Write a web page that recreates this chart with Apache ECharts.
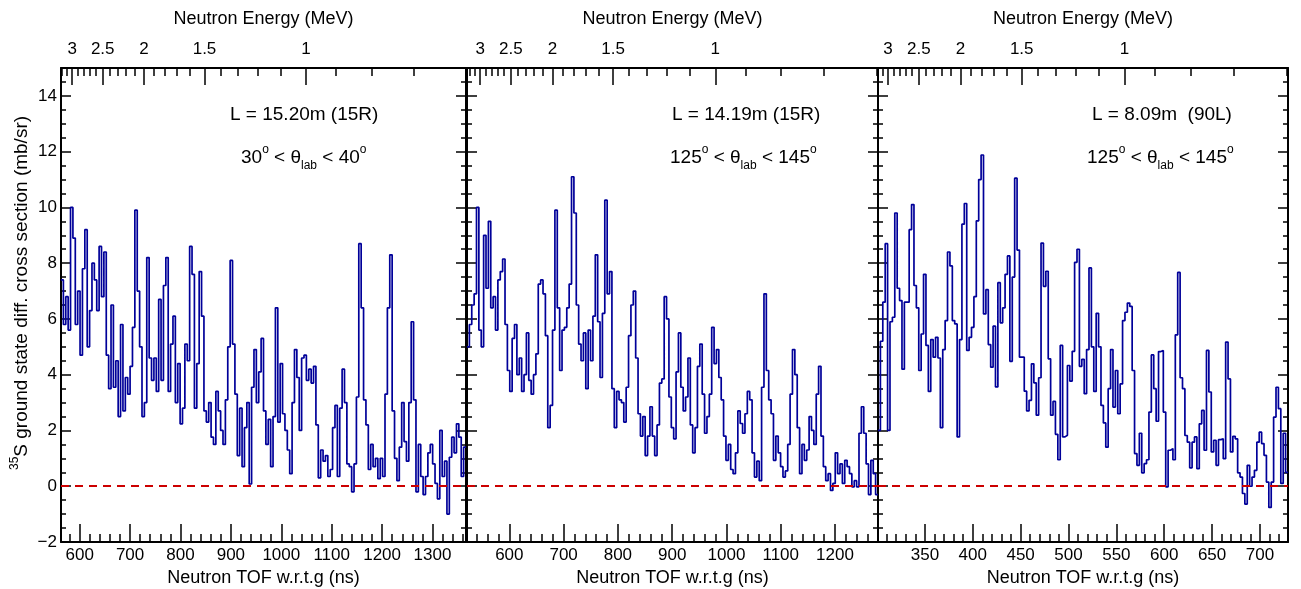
<!DOCTYPE html>
<html><head><meta charset="utf-8">
<script src="https://cdn.jsdelivr.net/npm/echarts@6/dist/echarts.min.js"></script>
<style>html,body{margin:0;padding:0;background:#fff}#c{width:1301px;height:589px}</style>
</head><body><div id="c"></div>
<script>
// ---------------- data ----------------
const flightPaths = [15.20, 14.19, 8.09];          // m
const panelLabels = ['L = 15.20m (15R)', 'L = 14.19m (15R)', 'L = 8.09m  (90L)'];
const angleLow = [30, 125, 125];
const angleHigh = [40, 145, 145];
const tofMin = [563, 522, 301];
const tofMax = [1366.4, 1279.2, 729.3];
const tofMajorTicks = [
  [600, 700, 800, 900, 1000, 1100, 1200, 1300],
  [600, 700, 800, 900, 1000, 1100, 1200],
  [350, 400, 450, 500, 550, 600, 650, 700]
];
const tofMinorStep = [20, 20, 10];
const energyLabels = [3, 2.5, 2, 1.5, 1];
const energyMinor = [3.2, 3.1, 2.9, 2.8, 2.7, 2.6, 2.4, 2.3, 2.2, 2.1, 1.9, 1.8, 1.7, 1.6, 1.4, 1.3, 1.2, 1.1, 0.9, 0.8, 0.7, 0.6];
const yMajorTicks = [-2, 0, 2, 4, 6, 8, 10, 12, 14];

// bin contents (mb/sr), equal-width TOF bins spanning each panel's axis range
const p1Values = [
7.4, 5.8, 6.8, 5.6, 10.0, 8.9, 5.8, 7.0,
4.7, 7.8, 9.2, 5.0, 6.3, 8.0, 7.4,
6.3, 8.6, 6.8, 8.4, 4.7, 3.5, 6.5,
3.55, 4.5, 2.5, 5.8, 2.7, 3.9, 3.3,
4.3, 5.7, 9.9, 7.0, 5.0, 2.5, 3.0,
8.2, 4.6, 3.8, 4.6, 3.4, 6.7, 3.8,
7.2, 8.2, 3.4, 5.1, 6.1, 3.0, 4.4,
2.24, 2.8, 5.1, 4.5, 8.6, 7.6, 2.8,
4.4, 7.7, 6.1, 2.7, 2.3, 3.0, 1.76,
1.5, 3.4, 2.7, 2.0, 1.5, 3.1, 5.0,
8.1, 5.1, 3.3, 1.1, 2.8, 0.7, 2.1,
3.0, 0.08, 3.55, 4.9, 3.0, 4.1, 5.3,
2.7, 1.5, 2.4, 0.7, 2.5, 6.4, 2.3,
4.4, 2.6, 2.0, 1.3, 0.45, 3.0, 4.9,
3.9, 2.0, 4.6, 4.7, 3.8, 4.2, 3.7,
4.3, 2.2, 0.3, 1.3, 0.9, 1.1, 0.35,
0.6, 2.1, 2.9, 0.35, 2.8, 4.2, 3.0,
0.8, 0.7, -0.2, 0.8, 3.2, 8.7, 6.4,
3.1, 2.2, 0.6, 1.5, 0.7, 1.0, 0.27,
1.0, 0.35, 3.3, 6.4, 8.3, 2.7, 1.0,
0.2, 1.4, 3.0, 1.6, 0.9, 3.0, 5.9,
3.1, -0.2, 1.5, 0.35, -0.3, 0.35, 1.2,
1.5, 0.8, 0.1, -0.45, 2.0, 0.35, 0.9,
-1.0, 1.04, 1.76, 1.2, 2.24, 1.76, 0.35,
1.4
];

const p2Values = [
5.0, 5.8, 6.5, 6.9, 10.0, 5.6, 5.0,
9.0, 7.1, 9.5, 6.4, 6.8, 5.6, 7.4,
7.7, 8.15, 5.8, 4.15, 3.4, 5.3, 5.8,
4.0, 4.6, 3.4, 4.0, 5.5, 3.8, 3.3,
4.0, 4.75, 7.25, 7.4, 6.9, 5.4, 2.1,
2.9, 5.6, 9.9, 6.4, 4.15, 5.6, 5.7,
6.4, 7.25, 11.1, 9.8, 6.5, 5.1, 4.5,
5.5, 3.5, 5.6, 4.5, 6.1, 8.3, 5.9,
3.9, 6.2, 10.26, 6.9, 7.7, 3.5, 2.1,
3.4, 3.1, 3.0, 2.3, 3.55, 5.4, 6.5,
7.0, 4.6, 2.6, 1.8, 2.5, 1.1, 1.8,
2.85, 1.8, 1.1, 2.2, 3.7, 3.85, 6.8,
6.0, 3.2, 2.1, 1.7, 4.1, 5.5, 3.55,
2.7, 3.2, 4.6, 2.2, 1.2, 2.1, 4.3,
5.1, 3.3, 1.9, 2.5, 3.3, 5.7, 4.4,
4.9, 3.9, 3.1, 1.8, 0.93, 1.5, 0.6,
0.45, 1.2, 2.7, 2.25, 1.9, 2.6, 3.4,
3.1, 1.2, 0.33, 0.9, 0.2, 3.55, 6.9,
4.15, 3.1, 2.6, 0.93, 1.8, 1.2, 0.7,
0.33, 0.55, 1.5, 3.3, 4.9, 4.0, 2.1,
0.45, 1.5, 0.93, 1.3, 2.5, 2.0, 1.5,
3.3, 4.3, 1.8, 0.7, 0.2, 0.45, -0.15,
0.1, 1.2, 0.45, 0.8, 0.1, 0.93, 0.7,
0.45, -0.02, 0.2, -0.02, 1.9, 2.85, 1.9,
0.8, -0.3, 0.93, 0.45, -0.3
];

const p3Values = [
2.0, 5.2, 6.6, 8.7, 2.0, 5.9, 6.06, 9.8, 7.1, 6.66,
4.2, 6.6, 6.6, 9.2, 10.1, 7.2, 6.4, 4.15, 5.46, 7.6,
5.05, 3.4, 5.26, 4.63, 5.34, 4.6, 2.1, 4.9, 5.94, 8.4,
7.9, 5.94, 5.82, 1.77, 5.26, 9.4, 10.14, 4.87, 5.34, 5.7,
6.8, 9.52, 11.0, 11.88, 6.18, 7.05, 5.08, 4.27, 5.74, 3.56,
7.3, 5.86, 6.4, 7.6, 8.26, 4.48, 7.5, 11.05, 8.47, 4.63,
4.63, 3.41, 2.7, 3.08, 4.39, 3.71, 2.55, 3.89, 8.72, 7.17,
7.71, 4.57, 2.55, 3.04, 1.86, 0.95, 5.05, 1.77, 1.83, 4.33,
3.77, 4.84, 8.03, 8.5, 4.3, 4.55, 3.32, 4.9, 7.83, 5.0,
3.4, 6.2, 5.0, 2.9, 2.27, 1.4, 3.5, 4.9, 2.84, 4.15,
2.6, 3.67, 5.94, 6.24, 6.57, 6.45, 4.15, 1.17, 0.75, 1.9,
0.48, 0.81, 0.95, 2.66, 4.71, 3.5, 2.33, 4.83, 4.87, 2.66,
-0.02, 1.29, 1.35, 0.95, 5.43, 7.67, 3.89, 3.5, 1.82, 1.58,
0.66, 1.58, 1.77, 0.63, 2.24, 2.72, 1.29, 4.87, 3.38, 1.23,
1.65, 0.75, 1.67, 1.7, 0.99, 5.17, 3.85, 1.23, 1.79, 1.7,
0.48, 0.33, -0.26, -0.64, 0.75, 0.0, 0.33, 0.57, 1.58, 1.94,
1.53, 1.11, 0.15, -0.76, 0.15, 2.48, 3.55, 2.78, 0.1, 1.9,
0.5
];
const panelValues = [p1Values, p2Values, p3Values];

// ---------------- helpers ----------------
const FONT = '"Liberation Sans", Arial, Helvetica, sans-serif';
const BLACK = '#000';
function tofFromEnergy(E, L) {
  const mn = 939.565, c = 0.299792458;
  const g = 1 + E / mn;
  const beta = Math.sqrt(1 - 1 / (g * g));
  return L / (beta * c) - L / c;
}
function minorTicks(min, max, step, majors) {
  const out = [];
  for (let k = Math.ceil(min / step - 1e-9); k * step < max - 1e-6; k++) {
    const v = Math.round(k * step * 1000) / 1000;
    if (v <= min + 1e-6) continue;
    if (!majors.some(m => Math.abs(m - v) < 1e-6)) out.push(v);
  }
  return out;
}
function histPoints(values, start, end) {
  const w = (end - start) / values.length;
  const pts = values.map((v, i) => [start + i * w, v]);
  pts.push([end, values[values.length - 1]]);
  return pts;
}
const plainNumber = v => (v < 0 ? '\u2212' + String(Math.abs(v)) : String(v));

const gridBoxes = [
  {left: 61, top: 68, width: 405, height: 474},
  {left: 467, top: 68, width: 411, height: 474},
  {left: 878, top: 68, width: 410, height: 474}
];

const grids = [], xAxes = [], yAxes = [], series = [];
const tickLine = {color: BLACK, width: 1.5};
const frameLine = {show: true, onZero: false, lineStyle: {color: BLACK, width: 2}};
const noLine = {show: false, onZero: false};
const yMinorTicks = minorTicks(-2, 15, 0.5, yMajorTicks);

for (let g = 0; g < 3; g++) {
  grids.push(Object.assign({show: false, outerBoundsMode: 'none', containLabel: false}, gridBoxes[g]));
  const L = flightPaths[g];
  const min = tofMin[g], max = tofMax[g];
  const maj = tofMajorTicks[g];
  const mnr = minorTicks(min, max, tofMinorStep[g], maj);
  const eMaj = energyLabels.map(E => tofFromEnergy(E, L));
  const eMin = energyMinor.map(E => tofFromEnergy(E, L)).filter(t => t > min && t < max);
  const base = {type: 'value', gridIndex: g, min: min, max: max, splitLine: {show: false}, silent: true};
  xAxes.push(Object.assign({}, base, {
    position: 'bottom', axisLine: frameLine,
    axisTick: {show: true, inside: true, length: 18, customValues: maj, lineStyle: tickLine},
    axisLabel: {show: true, customValues: maj, color: BLACK, fontSize: 17, fontFamily: FONT, margin: 5, formatter: plainNumber},
    name: 'Neutron TOF w.r.t.g (ns)', nameLocation: 'middle', nameGap: 22,
    nameTextStyle: {color: BLACK, fontSize: 18, fontFamily: FONT}
  }));
  xAxes.push(Object.assign({}, base, {
    position: 'bottom', axisLine: noLine,
    axisTick: {show: true, inside: true, length: 8, customValues: mnr, lineStyle: tickLine},
    axisLabel: {show: false}
  }));
  xAxes.push(Object.assign({}, base, {
    position: 'top', axisLine: frameLine,
    axisTick: {show: true, inside: true, length: 17, customValues: eMaj, lineStyle: tickLine},
    axisLabel: {show: true, customValues: eMaj, color: BLACK, fontSize: 17, fontFamily: FONT, margin: 10,
      formatter: function (val) {
        const i = eMaj.findIndex(t => Math.abs(t - val) < 1e-6);
        return i >= 0 ? String(energyLabels[i]) : '';
      }},
    name: 'Neutron Energy (MeV)', nameLocation: 'middle', nameGap: 40,
    nameTextStyle: {color: BLACK, fontSize: 18, fontFamily: FONT}
  }));
  xAxes.push(Object.assign({}, base, {
    position: 'top', axisLine: noLine,
    axisTick: {show: true, inside: true, length: 8, customValues: eMin, lineStyle: tickLine},
    axisLabel: {show: false}
  }));

  const ybase = {type: 'value', gridIndex: g, min: -2, max: 15, splitLine: {show: false}, silent: true};
  yAxes.push(Object.assign({}, ybase, {
    position: 'left', axisLine: frameLine,
    axisTick: {show: true, inside: true, length: 10, customValues: yMajorTicks, lineStyle: tickLine},
    axisLabel: {show: g === 0, customValues: yMajorTicks, color: BLACK, fontSize: 17, fontFamily: FONT, margin: 4,
      formatter: plainNumber}
  }));
  yAxes.push(Object.assign({}, ybase, {
    position: 'left', axisLine: noLine,
    axisTick: {show: true, inside: true, length: 5, customValues: yMinorTicks, lineStyle: tickLine},
    axisLabel: {show: false}
  }));
  yAxes.push(Object.assign({}, ybase, {
    position: 'right', axisLine: frameLine,
    axisTick: {show: true, inside: true, length: 10, customValues: yMajorTicks, lineStyle: tickLine},
    axisLabel: {show: false}
  }));
  yAxes.push(Object.assign({}, ybase, {
    position: 'right', axisLine: noLine,
    axisTick: {show: true, inside: true, length: 5, customValues: yMinorTicks, lineStyle: tickLine},
    axisLabel: {show: false}
  }));

  series.push({
    type: 'line', xAxisIndex: 4 * g, yAxisIndex: 4 * g,
    data: histPoints(panelValues[g], min, max),
    step: 'end', symbol: 'none', showSymbol: false, clip: true,
    lineStyle: {color: '#000099', width: 1.7}, z: 2, animation: false
  });
  series.push({
    type: 'line', xAxisIndex: 4 * g, yAxisIndex: 4 * g, data: [], z: 3,
    markLine: {silent: true, symbol: ['none', 'none'], label: {show: false}, animation: false,
      lineStyle: {color: '#cc0000', width: 2, type: [8, 6]}, data: [{yAxis: 0}]}
  });
}

// ---------------- annotations ----------------
const rich = {
  n: {fontSize: 19, fontFamily: FONT, color: BLACK, lineHeight: 28, verticalAlign: 'middle'},
  s: {fontSize: 12, fontFamily: FONT, color: BLACK, lineHeight: 12, verticalAlign: 'top'},
  b: {fontSize: 12, fontFamily: FONT, color: BLACK, lineHeight: 12, verticalAlign: 'bottom'}
};
const annPos = [
  {lx: 230, ax: 241}, {lx: 672, ax: 670}, {lx: 1092, ax: 1087}
];
const graphics = [];
for (let g = 0; g < 3; g++) {
  graphics.push({type: 'text', x: annPos[g].lx, y: 115, silent: true,
    style: {text: '{n|' + panelLabels[g] + '}', rich: rich, align: 'left', verticalAlign: 'middle', textAlign: 'left', textVerticalAlign: 'middle'}});
  graphics.push({type: 'text', x: annPos[g].ax, y: 158, silent: true,
    style: {text: '{n|' + angleLow[g] + '}{s|o}{n| < \u03b8}{b|lab}{n| < ' + angleHigh[g] + '}{s|o}',
      rich: rich, align: 'left', verticalAlign: 'middle', textAlign: 'left', textVerticalAlign: 'middle'}});
}
graphics.push({type: 'text', x: 22, y: 293, rotation: Math.PI / 2, silent: true,
  style: {text: '{s|35}{t|S ground state diff. cross section (mb/sr)}',
    rich: {t: {fontSize: 19, fontFamily: FONT, color: BLACK, lineHeight: 26, verticalAlign: 'middle'},
           s: {fontSize: 12, fontFamily: FONT, color: BLACK, lineHeight: 12, verticalAlign: 'top'}},
    align: 'center', verticalAlign: 'middle', textAlign: 'center', textVerticalAlign: 'middle'}});

const chart = echarts.init(document.getElementById('c'), null, {renderer: 'canvas'});
chart.setOption({
  animation: false,
  backgroundColor: '#fff',
  grid: grids,
  xAxis: xAxes,
  yAxis: yAxes,
  series: series,
  graphic: graphics
});
</script>
</body></html>
